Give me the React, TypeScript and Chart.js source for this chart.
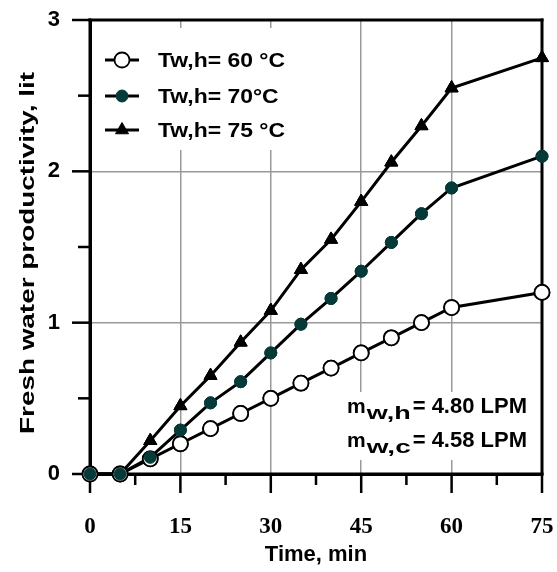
import React, { useEffect, useRef } from "react";
import { Chart, registerables } from "chart.js";

Chart.register(...registerables);

// ---- data ----
const timeMin = [0, 5, 10, 15, 20, 25, 30, 35, 40, 45, 50, 55, 60, 75];
const tw60 = [0, 0, 0.1, 0.2, 0.3, 0.4, 0.5, 0.6, 0.7, 0.8, 0.9, 1.0, 1.1, 1.2];
const tw70 = [0, 0, 0.11, 0.29, 0.47, 0.61, 0.8, 0.99, 1.16, 1.34, 1.53, 1.72, 1.89, 2.1];
const tw75 = [0, 0, 0.22, 0.45, 0.65, 0.87, 1.08, 1.35, 1.55, 1.8, 2.06, 2.3, 2.55, 2.75];
const seriesLabels = ["Tw,h= 60 °C", "Tw,h= 70°C", "Tw,h= 75 °C"];
const xMajorTicks = [0, 15, 30, 45, 60, 75];
const yMajorTicks = [0, 1, 2, 3];
const xGridValues = [15, 30, 45, 60];
const yGridValues = [1, 2];
const xTitle = "Time, min";
const yTitle = "Fresh water productivity, lit";
const noteLines = [
  { main: "m", sub: "w,h", rest: "= 4.80 LPM" },
  { main: "m", sub: "w,c", rest: "= 4.58 LPM" },
];

const SANS = "Arial, 'Liberation Sans', Helvetica, sans-serif";
const SERIF = "'Times New Roman', 'Liberation Serif', serif";
const TEAL = "#063a38";

function drawMarker(ctx: CanvasRenderingContext2D, style: string, x: number, y: number, r: number, fill: string, stroke: string, bw: number) {
  ctx.save();
  ctx.beginPath();
  if (style === "triangle") {
    let rad = 0;
    ctx.moveTo(x + Math.sin(rad) * r, y - Math.cos(rad) * r);
    rad += (2 * Math.PI) / 3;
    ctx.lineTo(x + Math.sin(rad) * r, y - Math.cos(rad) * r);
    rad += (2 * Math.PI) / 3;
    ctx.lineTo(x + Math.sin(rad) * r, y - Math.cos(rad) * r);
    ctx.closePath();
  } else {
    ctx.arc(x, y, r, 0, Math.PI * 2);
  }
  ctx.fillStyle = fill;
  ctx.fill();
  if (bw > 0) {
    ctx.lineWidth = bw;
    ctx.strokeStyle = stroke;
    ctx.stroke();
  }
  ctx.restore();
}

const markerDefs = [
  { style: "circle", r: 7.5, fill: "#ffffff", stroke: "#000000", bw: 1.8 },
  { style: "circle", r: 6, fill: TEAL, stroke: TEAL, bw: 1 },
  { style: "triangle", r: 7.5, fill: "#000000", stroke: "#000000", bw: 1 },
];

function seg(ctx: CanvasRenderingContext2D, x1: number, y1: number, x2: number, y2: number, w: number) {
  ctx.fillStyle = "#000000";
  if (Math.abs(x1 - x2) < 0.01) {
    ctx.fillRect(x1 - w / 2, Math.min(y1, y2), w, Math.abs(y2 - y1));
  } else {
    ctx.fillRect(Math.min(x1, x2), y1 - w / 2, Math.abs(x2 - x1), w);
  }
}

function drawFrame(chart: any) {
  const ctx = chart.ctx as CanvasRenderingContext2D;
  const xs = chart.scales.x;
  const ys = chart.scales.y;
  const L = Number(xs.left), R = Number(xs.right), T = Number(ys.top), B = Number(ys.bottom);
  ctx.save();
  ctx.globalCompositeOperation = "source-over";
  ctx.globalAlpha = 1;
  xs.ticks.forEach((t: any) => {
    const px = xs.getPixelForValue(t.value);
    const major = xMajorTicks.some((m) => Math.abs(m - t.value) < 1e-6);
    seg(ctx, px, B, px, B + (major ? 19 : 11), 2.5);
  });
  ys.ticks.forEach((t: any) => {
    const py = ys.getPixelForValue(t.value);
    const major = yMajorTicks.some((m) => Math.abs(m - t.value) < 1e-6);
    seg(ctx, L - (major ? 18 : 12), py, L, py, 2.5);
  });
  seg(ctx, L - 1.5, T, R + 1.5, T, 3);
  seg(ctx, L - 1.5, B, R + 1.5, B, 3);
  seg(ctx, L, T - 1.5, L, B + 1.5, 3);
  seg(ctx, R, T - 1.5, R, B + 1.5, 3);
  ctx.restore();
}

const framePlugin = {
  id: "frameTicks",
  afterDatasetsDraw(chart: any) {
    const ctx = chart.ctx as CanvasRenderingContext2D;
    drawFrame(chart);
    // keep the library's point markers above the frame
    const metas = chart.getSortedVisibleDatasetMetas();
    for (let i = metas.length - 1; i >= 0; i--) {
      metas[i].data.forEach((el: any) => el.draw(ctx));
    }
    ctx.save();
    // legend
    ctx.fillStyle = "#fff";
    ctx.fillRect(95, 28, 197, 122);
    const rows = [60, 96, 130];
    ctx.font = `bold 21px ${SANS}`;
    const sx = 127 / ctx.measureText(seriesLabels[0]).width;
    seriesLabels.forEach((lab, i) => {
      const y = rows[i];
      ctx.strokeStyle = "#000";
      ctx.lineWidth = 3;
      ctx.beginPath();
      ctx.moveTo(105, y);
      ctx.lineTo(139, y);
      ctx.stroke();
      const m = markerDefs[i];
      drawMarker(ctx, m.style, 122, y, m.r, m.fill, m.stroke, m.bw);
      ctx.save();
      ctx.fillStyle = "#000";
      ctx.font = `bold 21px ${SANS}`;
      ctx.textBaseline = "middle";
      ctx.textAlign = "left";
      ctx.translate(158, y + 1);
      ctx.scale(sx, 1);
      ctx.fillText(lab, 0, 0);
      ctx.restore();
    });
    // annotation
    ctx.fillStyle = "#fff";
    ctx.fillRect(340, 392, 194, 68);
    const baselines = [413, 447];
    noteLines.forEach((ln, i) => {
      const b = baselines[i];
      ctx.fillStyle = "#000";
      ctx.textBaseline = "alphabetic";
      ctx.textAlign = "left";
      ctx.font = `bold 21px ${SANS}`;
      ctx.fillText(ln.main, 347, b);
      const mw = ctx.measureText(ln.main).width;
      ctx.font = `bold 22px ${SANS}`;
      ctx.textAlign = "right";
      ctx.fillText(ln.rest, 527, b);
      const rw = ctx.measureText(ln.rest).width;
      const subStart = 347 + mw + 1;
      const subEnd = 527 - rw - 2;
      ctx.font = `bold 18px ${SANS}`;
      ctx.textAlign = "left";
      const sw = ctx.measureText(ln.sub).width;
      ctx.save();
      ctx.translate(subStart, b + 6);
      ctx.scale(Math.max(1, (subEnd - subStart) / sw), 1);
      ctx.fillText(ln.sub, 0, 0);
      ctx.restore();
    });
    ctx.restore();
  },
  afterDraw(chart: any) {
    const ctx = chart.ctx as CanvasRenderingContext2D;
    ctx.save();
    ctx.translate(28, 253);
    ctx.rotate(-Math.PI / 2);
    ctx.font = `bold 21px ${SANS}`;
    const w = ctx.measureText(yTitle).width;
    ctx.scale(362 / w, 1);
    ctx.fillStyle = "#000";
    ctx.textAlign = "center";
    ctx.textBaseline = "middle";
    ctx.fillText(yTitle, 0, 0);
    ctx.restore();
  },
};

export default function App() {
  const ref = useRef<HTMLCanvasElement | null>(null);
  useEffect(() => {
    if (!ref.current) return;
    const mk = (vals: number[]) => timeMin.map((t, i) => ({ x: t, y: vals[i] }));
    const chart = new Chart(ref.current, {
      type: "line",
      data: {
        datasets: [
          {
            label: seriesLabels[0],
            data: mk(tw60),
            borderColor: "#000",
            borderWidth: 3,
            pointStyle: "circle",
            pointRadius: 7.5,
            pointBackgroundColor: "#fff",
            pointBorderColor: "#000",
            pointBorderWidth: 1.8,
            clip: false as any,
            order: 1,
          },
          {
            label: seriesLabels[1],
            data: mk(tw70),
            borderColor: "#000",
            borderWidth: 3,
            pointStyle: "circle",
            pointRadius: 6,
            pointBackgroundColor: TEAL,
            pointBorderColor: TEAL,
            pointBorderWidth: 1,
            clip: false as any,
            order: 0,
          },
          {
            label: seriesLabels[2],
            data: mk(tw75),
            borderColor: "#000",
            borderWidth: 3,
            pointStyle: "triangle",
            pointRadius: 7.5,
            pointBackgroundColor: "#000",
            pointBorderColor: "#000",
            pointBorderWidth: 1,
            clip: false as any,
            order: 2,
          },
        ],
      },
      options: {
        animation: false,
        responsive: false,
        devicePixelRatio: 1,
        layout: { padding: { top: 20, right: 15, left: 0, bottom: 0 } },
        plugins: { legend: { display: false }, tooltip: { enabled: false } },
        scales: {
          x: {
            type: "linear",
            min: 0,
            max: 75,
            afterFit: (s: any) => {
              s.height = 98;
            },
            border: { display: true, color: "#000", width: 3 },
            grid: {
              color: (c: any) => (xGridValues.includes(c.tick?.value) ? "#999" : "rgba(0,0,0,0)"),
              lineWidth: 1.5,
              drawTicks: true,
              tickLength: 39,
              tickColor: "rgba(0,0,0,0)",
            },
            ticks: {
              stepSize: 7.5,
              autoSkip: false,
              maxRotation: 0,
              padding: 0,
              color: "#000",
              font: { family: SERIF, size: 23, weight: "bold" },
              callback: (v: any) => (xMajorTicks.includes(Number(v)) ? String(v) : ""),
            },
            title: {
              display: true,
              text: xTitle,
              color: "#000",
              font: { family: SANS, size: 22, weight: "bold" },
              padding: { top: 0, bottom: 4 },
            },
          },
          y: {
            min: 0,
            max: 3,
            afterFit: (s: any) => {
              s.width = 90;
            },
            border: { display: true, color: "#000", width: 3 },
            grid: {
              color: (c: any) => (yGridValues.includes(c.tick?.value) ? "#999" : "rgba(0,0,0,0)"),
              lineWidth: 1.5,
              drawTicks: true,
              tickLength: 30,
              tickColor: "rgba(0,0,0,0)",
            },
            ticks: {
              stepSize: 0.5,
              autoSkip: false,
              padding: 0,
              color: "#000",
              font: { family: SANS, size: 22, weight: "bold" },
              callback: (v: any) => (yMajorTicks.includes(Number(v)) ? String(v) : ""),
            },
          },
        },
      },
      plugins: [framePlugin],
    });
    return () => chart.destroy();
  }, []);
  return (
    <div style={{ position: "absolute", left: 0, top: 0, width: 557, height: 572, background: "#fff" }}>
      <canvas ref={ref} width={557} height={572} style={{ display: "block" }} />
    </div>
  );
}
